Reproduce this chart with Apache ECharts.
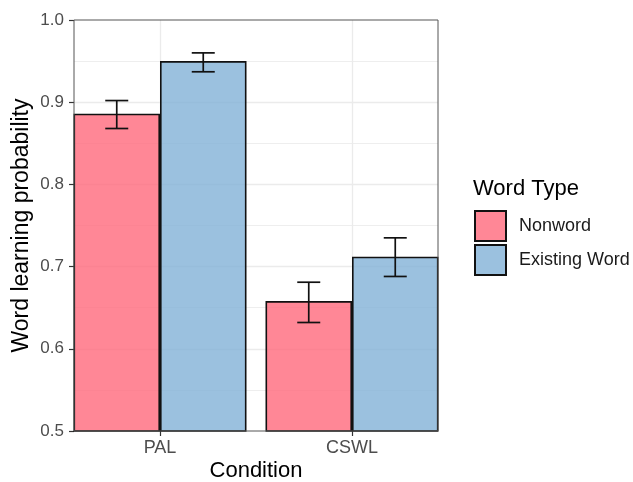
<!DOCTYPE html>
<html>
<head>
<meta charset="utf-8">
<script src="https://cdn.jsdelivr.net/npm/echarts@6/dist/echarts.min.js"></script>
<style>html,body{margin:0;padding:0;background:#fff;}#c{width:633px;height:482px;}</style>
</head>
<body>
<div id="c"></div>
<script>
const categories = ['PAL', 'CSWL'];
const seriesNames = ['Nonword', 'Existing Word'];
const nonword = [0.886, 0.658];
const nonwordLo = [0.868, 0.632];
const nonwordHi = [0.902, 0.681];
const existing = [0.950, 0.712];
const existingLo = [0.937, 0.688];
const existingHi = [0.960, 0.735];
const yMin = 0.5, yMax = 1.0, yStep = 0.1;

const FONT = '"Liberation Sans", Arial, Helvetica, sans-serif';
const BAR_W = 86.5;

function errSeries(name, lo, hi, offset) {
  return {
    type: 'custom', name: name, xAxisIndex: 1, yAxisIndex: 1, z: 5, silent: true,
    data: categories.map((c, i) => [i, lo[i], hi[i]]),
    renderItem: function (params, api) {
      const pLo = api.coord([api.value(0), api.value(1)]);
      const pHi = api.coord([api.value(0), api.value(2)]);
      const x = pLo[0] + offset, cap = 11.5;
      const st = { stroke: '#111', lineWidth: 1.7 };
      return { type: 'group', children: [
        { type: 'line', shape: { x1: x, y1: pLo[1], x2: x, y2: pHi[1] }, style: st },
        { type: 'line', shape: { x1: x - cap, y1: pLo[1], x2: x + cap, y2: pLo[1] }, style: st },
        { type: 'line', shape: { x1: x - cap, y1: pHi[1], x2: x + cap, y2: pHi[1] }, style: st }
      ]};
    }
  };
}

const chart = echarts.init(document.getElementById('c'), null, { renderer: 'canvas' });
chart.setOption({
  animation: false,
  backgroundColor: '#fff',
  textStyle: { fontFamily: FONT },
  grid: [
    { left: 74, right: 195, top: 20, bottom: 51, show: true, borderColor: '#555', borderWidth: 1, backgroundColor: 'transparent', z: 3 },
    { left: 64, right: 185, top: 20, bottom: 51 },
    { left: 160, right: 281, top: 20, bottom: 51 }
  ],
  xAxis: [
    { gridIndex: 0, type: 'value', min: 0, max: 1, show: false },
    { gridIndex: 1, type: 'category', data: categories, boundaryGap: true,
      axisLine: { show: false },
      axisTick: { show: true, alignWithLabel: true, length: 5, lineStyle: { color: '#333', width: 1.2 } },
      axisLabel: { color: '#4d4d4d', fontSize: 18, margin: 8, fontFamily: FONT },
      splitLine: { show: false } },
    { gridIndex: 2, type: 'category', data: categories, boundaryGap: false,
      axisLine: { show: false }, axisTick: { show: false }, axisLabel: { show: false },
      splitLine: { show: true, lineStyle: { color: '#ebebeb', width: 1.3 } } }
  ],
  yAxis: [
    { gridIndex: 0, type: 'value', min: yMin, max: yMax, interval: yStep,
      axisLine: { show: false },
      axisTick: { show: true, length: 5, lineStyle: { color: '#333', width: 1.2 } },
      axisLabel: { color: '#4d4d4d', fontSize: 17, margin: 10, fontFamily: FONT, formatter: v => v.toFixed(1) },
      splitLine: { show: true, showMinLine: false, showMaxLine: false, lineStyle: { color: '#ebebeb', width: 1.3 } },
      minorTick: { show: false, splitNumber: 2 },
      minorSplitLine: { show: true, lineStyle: { color: '#eeeeee', width: 1.1 } } },
    { gridIndex: 1, type: 'value', min: yMin, max: yMax, show: false },
    { gridIndex: 2, type: 'value', min: yMin, max: yMax, show: false }
  ],
  legend: {
    data: seriesNames, orient: 'vertical', left: 474, top: 210,
    itemWidth: 31, itemHeight: 30, itemGap: 2, icon: 'rect', padding: 0,
    textStyle: { fontSize: 18, color: '#1a1a1a', fontFamily: FONT, padding: [0, 0, 0, 8] },
    selectedMode: false
  },
  graphic: [
    { type: 'text', x: 22, y: 225.5, rotation: Math.PI / 2,
      style: { text: 'Word learning probability', fontSize: 23, fontFamily: FONT, fill: '#000', textAlign: 'center', textVerticalAlign: 'middle' } },
    { type: 'text', x: 256, y: 471,
      style: { text: 'Condition', fontSize: 22, fontFamily: FONT, fill: '#000', textAlign: 'center', textVerticalAlign: 'middle' } },
    { type: 'text', x: 473, y: 189,
      style: { text: 'Word Type', fontSize: 22, fontFamily: FONT, fill: '#000', textAlign: 'left', textVerticalAlign: 'middle' } }
  ],
  series: [
    { type: 'bar', name: seriesNames[0], xAxisIndex: 1, yAxisIndex: 1, data: nonword,
      barWidth: BAR_W, barGap: '0%',
      itemStyle: { color: 'rgba(255,105,124,0.8)', borderColor: '#111', borderWidth: 1.6 } },
    { type: 'bar', name: seriesNames[1], xAxisIndex: 1, yAxisIndex: 1, data: existing,
      barWidth: BAR_W, barGap: '0%',
      itemStyle: { color: 'rgba(130,178,215,0.8)', borderColor: '#111', borderWidth: 1.6 } },
    errSeries('errNonword', nonwordLo, nonwordHi, -BAR_W / 2),
    errSeries('errExisting', existingLo, existingHi, BAR_W / 2)
  ]
});
</script>
</body>
</html>
